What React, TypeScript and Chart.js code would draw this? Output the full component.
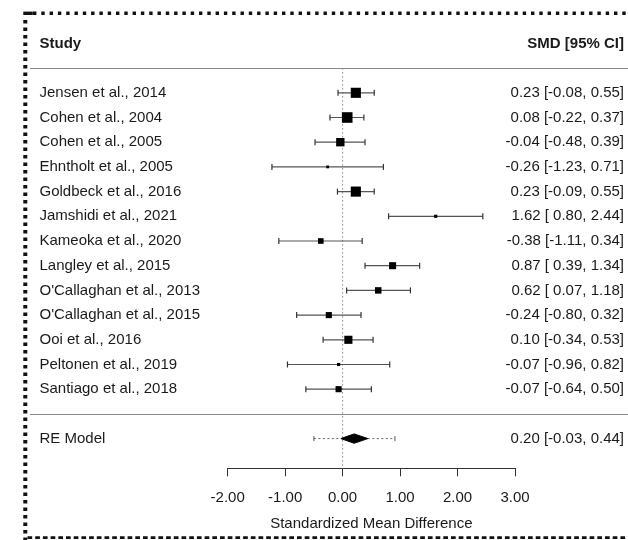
import React, { useEffect, useRef } from "react";
import { Chart, registerables } from "chart.js";

Chart.register(...registerables);

// ---------- data ----------
const studies = [
  "Jensen et al., 2014",
  "Cohen et al., 2004",
  "Cohen et al., 2005",
  "Ehntholt et al., 2005",
  "Goldbeck et al., 2016",
  "Jamshidi et al., 2021",
  "Kameoka et al., 2020",
  "Langley et al., 2015",
  "O'Callaghan et al., 2013",
  "O'Callaghan et al., 2015",
  "Ooi et al., 2016",
  "Peltonen et al., 2019",
  "Santiago et al., 2018",
];
const smd = [0.23, 0.08, -0.04, -0.26, 0.23, 1.62, -0.38, 0.87, 0.62, -0.24, 0.1, -0.07, -0.07];
const ciLower = [-0.08, -0.22, -0.48, -1.23, -0.09, 0.8, -1.11, 0.39, 0.07, -0.8, -0.34, -0.96, -0.64];
const ciUpper = [0.55, 0.37, 0.39, 0.71, 0.55, 2.44, 0.34, 1.34, 1.18, 0.32, 0.53, 0.82, 0.5];
// estimated relative weights (%) — drive the square sizes
const weights = [10.3, 10.7, 8.8, 4.1, 10.3, 4.4, 6.5, 7.7, 7.2, 6.9, 8.6, 4.4, 6.9];

const reLabel = "RE Model";
const reEstimate = [0.2];
const reCI = [-0.03, 0.44];
const rePI = [-0.5, 0.91];

const xTicks = [-2, -1, 0, 1, 2, 3];
const xTitle = "Standardized Mean Difference";
const headerLeft = "Study";
const headerRight = "SMD [95% CI]";

// ---------- helpers ----------
const FONT = "'Liberation Sans', Arial, Helvetica, sans-serif";
const TEXT = "#1a1a1a";
const fmt = (v: number) => v.toFixed(2);
const fmtLo = (v: number) => (v >= 0 ? " " + fmt(v) : fmt(v));
const ciText = (e: number, lo: number, hi: number) => `${fmt(e)} [${fmtLo(lo)}, ${fmt(hi)}]`;

const nStudies = studies.length;
const headerRow = -2;
const headerLineRow = -1;
const sepRow = nStudies;
const reRow = nStudies + 1;
const Y_MIN = -3.454;
const Y_MAX = 15.203;
const DIAMOND_HALF = 0.19;

const wMin = Math.min(...weights);
const wMax = Math.max(...weights);
const squareSide = (w: number) => 2.8 + ((w - wMin) / (wMax - wMin)) * 7.8;

const forestPlugin = {
  id: "forestText",
  afterDraw(chart: any) {
    const { ctx } = chart;
    const y = chart.scales.y;
    const W = chart.width;
    const H = chart.height;
    ctx.save();
    // separator lines
    ctx.strokeStyle = "#888";
    ctx.lineWidth = 1;
    ctx.setLineDash([]);
    [headerLineRow, sepRow].forEach((r) => {
      const py = Math.round(y.getPixelForValue(r)) + 0.5;
      ctx.beginPath();
      ctx.moveTo(30, py);
      ctx.lineTo(W, py);
      ctx.stroke();
    });
    // texts
    ctx.fillStyle = TEXT;
    ctx.textBaseline = "middle";
    ctx.font = `bold 15px ${FONT}`;
    ctx.textAlign = "left";
    ctx.fillText(headerLeft, 39.5, y.getPixelForValue(headerRow));
    ctx.textAlign = "right";
    ctx.fillText(headerRight, 624, y.getPixelForValue(headerRow));
    ctx.font = `15px ${FONT}`;
    studies.forEach((s, i) => {
      const py = y.getPixelForValue(i);
      ctx.textAlign = "left";
      ctx.fillText(s, 39.5, py);
      ctx.textAlign = "right";
      ctx.fillText(ciText(smd[i], ciLower[i], ciUpper[i]), 624, py);
    });
    const pyRe = y.getPixelForValue(reRow);
    ctx.textAlign = "left";
    ctx.fillText(reLabel, 39.5, pyRe);
    ctx.textAlign = "right";
    ctx.fillText(ciText(reEstimate[0], reCI[0], reCI[1]), 624, pyRe);

    // dotted frame
    ctx.strokeStyle = "#111";
    ctx.lineCap = "butt";
    ctx.lineWidth = 3.4;
    ctx.setLineDash([3.4, 4.9]);
    ctx.beginPath();
    ctx.moveTo(33, 13.3);
    ctx.lineTo(W, 13.3);
    ctx.stroke();
    ctx.fillStyle = "#111";
    ctx.fillRect(23.3, 11.6, 9.5, 3.4);
    ctx.lineWidth = 4;
    ctx.setLineDash([3.4, 4.1]);
    ctx.beginPath();
    ctx.moveTo(25.3, 20);
    ctx.lineTo(25.3, H);
    ctx.stroke();
    ctx.lineWidth = 2.8;
    ctx.setLineDash([4.7, 3]);
    ctx.beginPath();
    ctx.moveTo(27.5, 537.7);
    ctx.lineTo(W, 537.7);
    ctx.stroke();
    ctx.restore();
  },
};

export default function App() {
  const ref = useRef<HTMLCanvasElement | null>(null);

  useEffect(() => {
    if (!ref.current) return;

    const ciSets = studies.map((_, i) => ({
      type: "line" as const,
      data: [
        { x: ciLower[i], y: i },
        { x: ciUpper[i], y: i },
      ],
      borderColor: "#555",
      borderWidth: 1.2,
      pointStyle: "line" as const,
      pointRotation: 90,
      pointRadius: 3,
      pointBorderColor: "#333",
      pointBorderWidth: 1.2,
      fill: false,
      order: 3,
      clip: false as const,
    }));

    const chart = new Chart(ref.current, {
      type: "line",
      data: {
        datasets: [
          {
            type: "scatter",
            data: smd.map((v, i) => ({ x: v, y: i })),
            pointStyle: "rect",
            pointRadius: (c: any) => squareSide(weights[c.dataIndex]) / Math.SQRT2,
            backgroundColor: "#000",
            borderColor: "#000",
            borderWidth: 0,
            order: 1,
            clip: false,
          } as any,
          {
            type: "line",
            data: [
              { x: reCI[0], y: reRow },
              { x: reEstimate[0], y: reRow - DIAMOND_HALF },
              { x: reCI[1], y: reRow },
              { x: reEstimate[0], y: reRow + DIAMOND_HALF },
              { x: reCI[0], y: reRow },
            ],
            borderColor: "#000",
            backgroundColor: "#000",
            borderWidth: 1,
            pointRadius: 0,
            fill: "shape",
            tension: 0,
            order: 2,
            clip: false,
          } as any,
          {
            type: "line",
            data: [
              { x: rePI[0], y: reRow },
              { x: rePI[1], y: reRow },
            ],
            borderColor: "#666",
            borderWidth: 1,
            borderDash: [2, 2.5],
            pointStyle: "line",
            pointRotation: 90,
            pointRadius: 2.5,
            pointBorderColor: "#555",
            pointBorderWidth: 1,
            fill: false,
            order: 4,
            clip: false,
          } as any,
          ...(ciSets as any[]),
          {
            type: "line",
            data: [
              { x: 0, y: headerLineRow },
              { x: 0, y: Y_MAX },
            ],
            borderColor: "#888",
            borderWidth: 1,
            borderDash: [1.5, 2.5],
            pointRadius: 0,
            fill: false,
            order: 10,
            clip: false,
          } as any,
        ],
      },
      options: {
        responsive: false,
        devicePixelRatio: 1,
        animation: false,
        layout: { padding: { left: 227.7, right: 113, top: 0, bottom: 0 } },
        plugins: {
          legend: { display: false },
          tooltip: { enabled: false },
        },
        scales: {
          x: {
            type: "linear",
            min: -2,
            max: 3,
            afterBuildTicks: (s: any) => {
              s.ticks = xTicks.map((v) => ({ value: v }));
            },
            afterFit: (s: any) => {
              s.height = 71.7;
            },
            ticks: {
              callback: (v: any) => Number(v).toFixed(2),
              font: { family: FONT, size: 15 },
              color: TEXT,
              padding: 13,
              maxRotation: 0,
            },
            grid: {
              drawOnChartArea: false,
              drawTicks: true,
              tickLength: 8,
              color: "#333",
            },
            border: { display: true, color: "#333", width: 1 },
            title: {
              display: true,
              text: xTitle,
              font: { family: FONT, size: 15 },
              color: TEXT,
              padding: { top: 4, bottom: 7 },
            },
          },
          y: {
            type: "linear",
            display: false,
            reverse: true,
            min: Y_MIN,
            max: Y_MAX,
          },
        },
      },
      plugins: [forestPlugin],
    } as any);

    return () => chart.destroy();
  }, []);

  return (
    <div style={{ position: "absolute", left: 0, top: 0, width: 628, height: 540, background: "#fff" }}>
      <canvas ref={ref} width={628} height={540} />
    </div>
  );
}
